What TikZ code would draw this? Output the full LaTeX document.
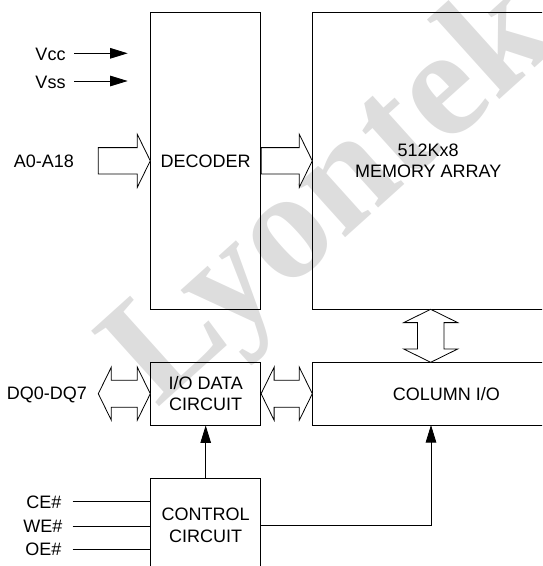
\documentclass[tikz,border=0pt]{standalone}
\usepackage{fontspec}
\setmainfont{Liberation Sans}
\newfontfamily\wmfont{Liberation Serif}
\usetikzlibrary{arrows.meta,calc}
\definecolor{wmgray}{RGB}{221,221,221}
\newcommand\hsingle[2]{%
  \draw[hollow] let \p1=(#1), \p2=(#2) in
    (\x2,\y2) -- (\x2-13pt,\y2+26.5pt) -- (\x2-13pt,\y2+13.2pt) -- (\x1,\y2+13.2pt)
    -- (\x1,\y2-13.2pt) -- (\x2-13pt,\y2-13.2pt) -- (\x2-13pt,\y2-26.5pt) -- cycle;}
\newcommand\hdouble[2]{%
  \draw[hollow] let \p1=(#1), \p2=(#2) in
    (\x1,\y1) -- (\x1+13pt,\y1+26.5pt) -- (\x1+13pt,\y1+13.5pt) -- (\x2-13pt,\y1+13.5pt)
    -- (\x2-13pt,\y1+26.5pt) -- (\x2,\y1) -- (\x2-13pt,\y1-26.5pt) -- (\x2-13pt,\y1-13.5pt)
    -- (\x1+13pt,\y1-13.5pt) -- (\x1+13pt,\y1-26.5pt) -- cycle;}
\newcommand\vdouble[2]{%
  \draw[hollow] let \p1=(#1), \p2=(#2) in
    (\x1,\y1) -- (\x1+27pt,\y1-13.3pt) -- (\x1+13.3pt,\y1-13.3pt) -- (\x1+13.3pt,\y2+13.3pt)
    -- (\x1+27pt,\y2+13.3pt) -- (\x1,\y2) -- (\x1-27pt,\y2+13.3pt) -- (\x1-13.3pt,\y2+13.3pt)
    -- (\x1-13.3pt,\y1-13.3pt) -- (\x1-27pt,\y1-13.3pt) -- cycle;}
\begin{document}
\begin{tikzpicture}[x=1pt,y=-1pt,
  box/.style={draw, line width=0.8pt, inner sep=0pt, align=center,
    font=\fontsize{18}{21.7}\selectfont},
  lbl/.style={inner sep=0pt, font=\fontsize{18}{21.7}\selectfont},
  hollow/.style={draw, line width=0.8pt, fill=white, line join=miter},
  sig/.style={line width=0.9pt, -{Triangle[length=17.5pt,width=10.5pt]}},
  wire/.style={line width=0.9pt},
]
\useasboundingbox (0,0) rectangle (542,566);
\begin{scope}
\clip (0,0) rectangle (542,566);
% watermark (behind)
\node[rotate=42, inner sep=0pt, text=wmgray,
  font=\wmfont\bfseries\fontsize{155}{155}\selectfont] (wm) at (334,199) {Lyontek};
% boxes
\node[box, minimum width=110pt, minimum height=297pt] (dec) at (205.7,160.8) {DECODER};
\node[box, minimum width=231pt, minimum height=297pt] (mem) at (428.2,160.8) {512Kx8\\MEMORY ARRAY};
\node[box, minimum width=110pt, minimum height=62.7pt] (io) at (205.7,393.7) {I/O DATA\\CIRCUIT};
\node[box, minimum width=267.2pt, minimum height=62.7pt] (col) at (446.3,393.7) {COLUMN I/O};
\node[box, minimum width=110pt, minimum height=93.6pt] (ctrl) at (205.7,525.5) {CONTROL\\CIRCUIT};
% labels
\node[lbl, anchor=east] (vcc) at (65.7,54) {Vcc};
\node[lbl, anchor=east] (vss) at (65.7,82) {Vss};
\node[lbl, anchor=east] (addr) at (74,161) {A0-A18};
\node[lbl, anchor=east] (dq) at (87,395) {DQ0-DQ7};
\node[lbl, anchor=east] (ce) at (61.7,502) {CE\#};
\node[lbl, anchor=east] (we) at (62.7,526) {WE\#};
\node[lbl, anchor=east] (oe) at (61.7,549.5) {OE\#};
% power arrows
\coordinate (vccs) at (74,53.3);
\coordinate (vcce) at (127.7,53.3);
\coordinate (vsss) at (74,81);
\coordinate (vsse) at (127.7,81);
\draw[sig] (vccs) -- (vcce);
\draw[sig] (vsss) -- (vsse);
% control inputs
\draw[wire] (72.7,501.7) coordinate (ces) -- (ces -| ctrl.west);
\draw[wire] (72.7,526) coordinate (wes) -- (wes -| ctrl.west);
\draw[wire] (72.7,549.3) coordinate (oes) -- (oes -| ctrl.west);
% control outputs
\draw[sig] (ctrl.north) -- (io.south);
\coordinate (colin) at (431,425);
\draw[sig] (ctrl.east) -| (colin);
% hollow bus arrows
\coordinate (addrtail) at (98.3,160.8);
\hsingle{addrtail}{dec.west}
\hsingle{dec.east}{mem.west}
\coordinate (dqtip) at (98.3,393.7);
\hdouble{dqtip}{io.west}
\hdouble{io.east}{col.west}
\coordinate (vtop) at (430.7,309.3);
\coordinate (vbot) at (430.7,362.3);
\vdouble{vtop}{vbot}
\end{scope}
\end{tikzpicture}
\end{document}
